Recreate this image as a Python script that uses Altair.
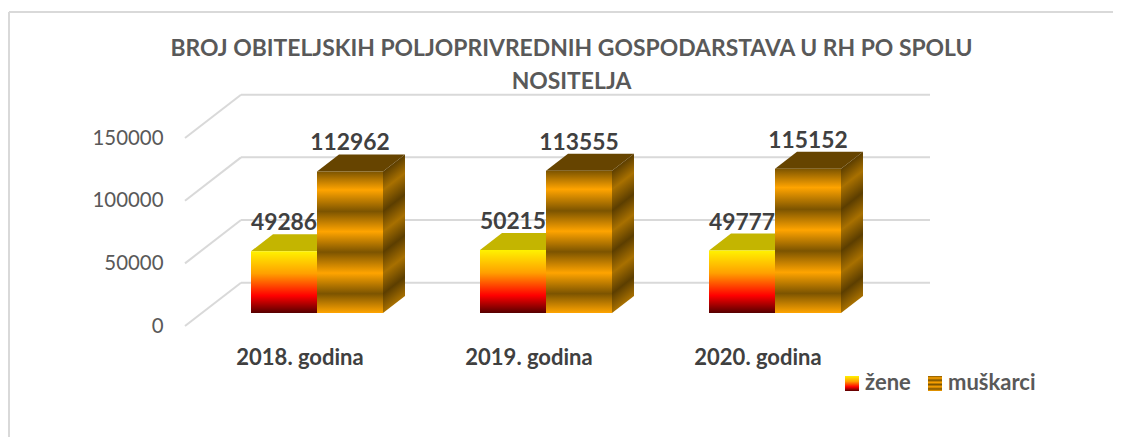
import altair as alt
import pandas as pd

title_lines = ["BROJ OBITELJSKIH POLJOPRIVREDNIH GOSPODARSTAVA U RH PO SPOLU", "NOSITELJA"]
categories = ["2018. godina", "2019. godina", "2020. godina"]
zene = [49286, 50215, 49777]
muskarci = [112962, 113555, 115152]
y_ticks = [0, 50000, 100000, 150000]
series_names = ["žene", "muškarci"]

W, H = 745, 236
X_MAX = W / 229.0
Y_MAX = H / 0.0012533
FIRST_CENTER = 132 / 229.0   # centre of the first bar pair, category units
BAR_W = 66 / 229.0
BAR_DX, BAR_DY = 22 / 229.0, 17 / 0.0012533
FLOOR_Y = 13 / 0.0012533     # the bars stand this far in front of the axis plane
WALL_DX, WALL_DY = 56 / 229.0, 43.3 / 0.0012533
WALL_END = 745 / 229.0
TEXT = "#595959"
FONT = "Lato"

def grad(colors, offsets, x1=0, y1=0, x2=0, y2=1):
    return alt.Gradient(gradient="linear", x1=x1, y1=y1, x2=x2, y2=y2,
                        stops=[alt.GradientStop(color=c, offset=o) for c, o in zip(colors, offsets)])

fire_cols = ["#FFF200", "#FFA000", "#FF0000", "#560000"]
fire_offs = [0, 0.36, 0.72, 1]
FIRE = grad(fire_cols, fire_offs)
band_offs = [0, 0.131, 0.282, 0.425, 0.57, 0.718, 0.864, 1]
BRONZE = grad(["#7C5400", "#FFA400", "#7C5400", "#FFA400", "#7C5400", "#FFA400", "#7C5400", "#FFA400"], band_offs)
BRONZE_SIDE = grad(["#5C3E00", "#A87000", "#5C3E00", "#A87000", "#5C3E00", "#A87000", "#5C3E00", "#A87000"],
                   band_offs, x1=0, y1=0.107, x2=0.0945, y2=0.99)

xs = alt.Scale(domain=[0, X_MAX], nice=False, zero=False)
ys = alt.Scale(domain=[0, Y_MAX], nice=False, zero=False)
y_axis = alt.Axis(values=y_ticks, domain=False, ticks=False, grid=False, labelPadding=22,
                  labelFont=FONT, labelFontSize=20.4, labelColor=TEXT, format="d", title=None)
X = alt.X("x:Q", scale=xs, axis=None)
Y = alt.Y("y:Q", scale=ys, axis=y_axis, title=None)

# wall gridlines
back = pd.DataFrame({"x": WALL_DX, "x2": WALL_END, "y": [v + WALL_DY for v in y_ticks]})
diag = pd.DataFrame({"x": 0.0, "x2": WALL_DX, "y": y_ticks, "y2": [v + WALL_DY for v in y_ticks]})
grid_back = alt.Chart(back).mark_rule(color="#D9D9D9", strokeWidth=2).encode(x=X, x2="x2:Q", y=Y)
grid_diag = alt.Chart(diag).mark_rule(color="#D9D9D9", strokeWidth=2).encode(x=X, x2="x2:Q", y=Y, y2="y2:Q")

rows = []
for i, c in enumerate(categories):
    center = FIRST_CENTER + i
    rows.append(dict(id=f"z{i}", cat=c, s="z", v=zene[i], x=center - BAR_W, x2=center))
    rows.append(dict(id=f"m{i}", cat=c, s="m", v=muskarci[i], x=center, x2=center + BAR_W))
bars = pd.DataFrame(rows)
bars["y"] = FLOOR_Y + bars["v"]
bars["y2"] = FLOOR_Y

def side(df):
    out = []
    for _, r in df.iterrows():
        for k in (0, 1):
            out.append(dict(id=r["id"], x=r["x2"] + k * BAR_DX, y=r["y"] + k * BAR_DY, y2=r["y2"] + k * BAR_DY))
    return pd.DataFrame(out)

def top(df):
    out = []
    for _, r in df.iterrows():
        for k in (0, 1):
            out.append(dict(id=r["id"], x=r["x"] + k * BAR_DX, x2=r["x2"] + k * BAR_DX, y=r["y"] + k * BAR_DY))
    return pd.DataFrame(out)

def solid(df, front, top_col, side_col):
    return [
        alt.Chart(side(df)).mark_area(orient="vertical", color=side_col).encode(x=X, y=Y, y2="y2:Q", detail="id:N"),
        alt.Chart(top(df)).mark_area(orient="horizontal", color=top_col).encode(x=X, x2="x2:Q", y=Y, detail="id:N"),
        alt.Chart(df).mark_rect(color=front).encode(x=X, x2="x2:Q", y=Y, y2="y2:Q"),
    ]

z_layers = solid(bars[bars.s == "z"], FIRE, "#C4B500", "#8A7A00")
m_layers = solid(bars[bars.s == "m"], BRONZE, "#664400", BRONZE_SIDE)

value_df = bars.assign(x=(bars["x"] + bars["x2"]) / 2, y=bars["y"] + BAR_DY)
value_labels = alt.Chart(value_df).mark_text(font=FONT, fontWeight="bold", fontSize=22.8, color="#404040",
                                             baseline="middle", dy=-11).encode(x=X, y=Y, text="v:Q")

cat_df = pd.DataFrame({"cat": categories, "x": [FIRST_CENTER + i - 17 / 229.0 for i in range(3)], "y": 0.0})
cat_labels = alt.Chart(cat_df).mark_text(font=FONT, fontWeight="bold", fontSize=22, color="#404040",
                                         baseline="middle", dy=32).encode(x=X, y=Y, text="cat:N")

one = pd.DataFrame({"k": [0]})
legend_layers = []
for name, g, sx, tx in zip(series_names, [FIRE, BRONZE], [660, 743], [680, 763]):
    legend_layers.append(alt.Chart(one).mark_rect(color=g).encode(
        x=alt.value(sx), x2=alt.value(sx + 14), y=alt.value(286), y2=alt.value(301)))
    legend_layers.append(alt.Chart(one).mark_text(font=FONT, fontWeight="bold", fontSize=22, color=TEXT,
                                                  align="left", baseline="middle").encode(
        x=alt.value(tx), y=alt.value(293), text=alt.value(name)))

frame_top = alt.Chart(one).mark_rule(color="#D9D9D9", strokeWidth=2).encode(
    x=alt.value(-176), x2=alt.value(928), y=alt.value(-78))
frame_left = alt.Chart(one).mark_rule(color="#D9D9D9", strokeWidth=2).encode(
    x=alt.value(-176), y=alt.value(-78), y2=alt.value(347))

chart = alt.layer(
    frame_top, frame_left, grid_back, grid_diag, *z_layers, *m_layers,
    value_labels, cat_labels, *legend_layers,
).properties(
    width=W, height=H,
    padding={"left": 177, "top": 82, "right": 183, "bottom": 111},
    autosize=alt.AutoSizeParams(type="none"),
    title=alt.Title(title_lines, font=FONT, fontWeight="bold", fontSize=22.9, color=TEXT, lineHeight=33,
                    anchor="middle", frame="group", dx=14, offset=-83),
).configure_view(stroke=None)

chart.save("out.html", embed_options={"renderer": "svg", "actions": False})
